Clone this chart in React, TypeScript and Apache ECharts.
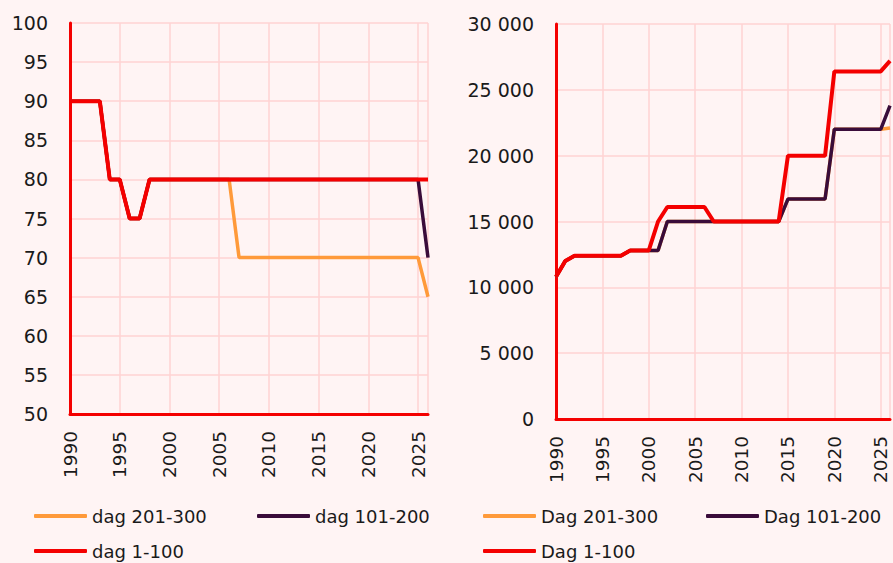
import React, { useEffect, useRef } from "react";
import * as echarts from "echarts";

const years: string[] = [
  "1990","1991","1992","1993","1994","1995","1996","1997","1998","1999",
  "2000","2001","2002","2003","2004","2005","2006","2007","2008","2009",
  "2010","2011","2012","2013","2014","2015","2016","2017","2018","2019",
  "2020","2021","2022","2023","2024","2025","2026",
];

// Left chart (percent)
const leftDag201_300 = [
  90, 90, 90, 90, 80, 80, 75, 75, 80, 80,
  80, 80, 80, 80, 80, 80, 80, 70, 70, 70,
  70, 70, 70, 70, 70, 70, 70, 70, 70, 70,
  70, 70, 70, 70, 70, 70, 65,
];
const leftDag101_200 = [
  90, 90, 90, 90, 80, 80, 75, 75, 80, 80,
  80, 80, 80, 80, 80, 80, 80, 80, 80, 80,
  80, 80, 80, 80, 80, 80, 80, 80, 80, 80,
  80, 80, 80, 80, 80, 80, 70,
];
const leftDag1_100 = [
  90, 90, 90, 90, 80, 80, 75, 75, 80, 80,
  80, 80, 80, 80, 80, 80, 80, 80, 80, 80,
  80, 80, 80, 80, 80, 80, 80, 80, 80, 80,
  80, 80, 80, 80, 80, 80, 80,
];

// Right chart (amounts)
const rightDag201_300 = [
  10800, 12000, 12400, 12400, 12400, 12400, 12400, 12400, 12800, 12800,
  12800, 12800, 15000, 15000, 15000, 15000, 15000, 15000, 15000, 15000,
  15000, 15000, 15000, 15000, 15000, 16700, 16700, 16700, 16700, 16700,
  22000, 22000, 22000, 22000, 22000, 22000, 22100,
];
const rightDag101_200 = [
  10800, 12000, 12400, 12400, 12400, 12400, 12400, 12400, 12800, 12800,
  12800, 12800, 15000, 15000, 15000, 15000, 15000, 15000, 15000, 15000,
  15000, 15000, 15000, 15000, 15000, 16700, 16700, 16700, 16700, 16700,
  22000, 22000, 22000, 22000, 22000, 22000, 23800,
];
const rightDag1_100 = [
  10800, 12000, 12400, 12400, 12400, 12400, 12400, 12400, 12800, 12800,
  12800, 15000, 16100, 16100, 16100, 16100, 16100, 15000, 15000, 15000,
  15000, 15000, 15000, 15000, 15000, 20000, 20000, 20000, 20000, 20000,
  26400, 26400, 26400, 26400, 26400, 26400, 27200,
];

const leftNames = ["dag 201-300", "dag 101-200", "dag 1-100"];
const rightNames = ["Dag 201-300", "Dag 101-200", "Dag 1-100"];

const ORANGE = "#ff9a3a";
const PURPLE = "#3a0c3a";
const RED = "#f40000";
const GRID = "#ffd3d3";
const AXIS = "#f40000";
const TEXT = "#1a1a1a";
const FONT = "DejaVu Sans";

export default function App() {
  const ref = useRef<HTMLDivElement>(null);
  useEffect(() => {
    if (!ref.current) return;
    const chart = echarts.init(ref.current, undefined, { renderer: "svg" });

    const xAxisCommon = (gridIndex: number) => ({
      type: "category",
      gridIndex,
      data: years,
      boundaryGap: false,
      axisLine: { show: true, onZero: false, lineStyle: { color: AXIS, width: 3 } },
      axisTick: { show: false },
      axisLabel: {
        interval: (i: number) => i % 5 === 0,
        rotate: 90,
        fontSize: 18.5,
        fontFamily: FONT,
        color: TEXT,
        margin: 17,
      },
      splitLine: {
        show: true,
        interval: (i: number) => i % 5 === 0 || i === years.length - 1,
        lineStyle: { color: GRID, width: 1.5 },
      },
    });

    const fmt = (v: number) => String(v).replace(/\B(?=(\d{3})+(?!\d))/g, " ");

    const yAxisCommon = (gridIndex: number, min: number, max: number, interval: number) => ({
      type: "value",
      gridIndex,
      min,
      max,
      interval,
      axisLine: { show: true, lineStyle: { color: AXIS, width: 3 } },
      axisTick: { show: false },
      axisLabel: {
        fontSize: 19,
        fontFamily: FONT,
        color: TEXT,
        margin: 22,
        formatter: fmt,
      },
      splitLine: { show: true, lineStyle: { color: GRID, width: 1.5 } },
    });

    const lineSeries = (name: string, data: number[], color: string, idx: number, width: number) => ({
      type: "line",
      name,
      data,
      xAxisIndex: idx,
      yAxisIndex: idx,
      showSymbol: false,
      symbol: "none",
      lineStyle: { color, width },
      itemStyle: { color },
    });

    const legendItem = (name: string, left: number, top: number) => ({
      data: [name],
      left,
      top,
      orient: "horizontal",
      icon: "roundRect",
      itemWidth: 53,
      itemHeight: 4,
      padding: 0,
      selectedMode: false,
      textStyle: { fontSize: 18, fontFamily: FONT, color: TEXT },
    });

    chart.setOption({
      animation: false,
      backgroundColor: "#fff4f4",
      grid: [
        { left: 70, right: 465, top: 23, bottom: 149, containLabel: false },
        { left: 556, right: 3, top: 24, bottom: 144, containLabel: false },
      ],
      xAxis: [xAxisCommon(0), xAxisCommon(1)],
      yAxis: [yAxisCommon(0, 50, 100, 5), yAxisCommon(1, 0, 30000, 5000)],
      legend: [
        legendItem(leftNames[0], 34, 507),
        legendItem(leftNames[1], 257, 507),
        legendItem(leftNames[2], 34, 542),
        legendItem(rightNames[0], 483, 507),
        legendItem(rightNames[1], 706, 507),
        legendItem(rightNames[2], 483, 542),
      ],
      series: [
        lineSeries(leftNames[0], leftDag201_300, ORANGE, 0, 3.5),
        lineSeries(leftNames[1], leftDag101_200, PURPLE, 0, 3.5),
        lineSeries(leftNames[2], leftDag1_100, RED, 0, 4),
        lineSeries(rightNames[0], rightDag201_300, ORANGE, 1, 3.5),
        lineSeries(rightNames[1], rightDag101_200, PURPLE, 1, 3.5),
        lineSeries(rightNames[2], rightDag1_100, RED, 1, 4),
      ],
    });

    return () => chart.dispose();
  }, []);

  return (
    <div
      ref={ref}
      style={{ position: "absolute", left: 0, top: 0, width: 893, height: 563 }}
    />
  );
}
